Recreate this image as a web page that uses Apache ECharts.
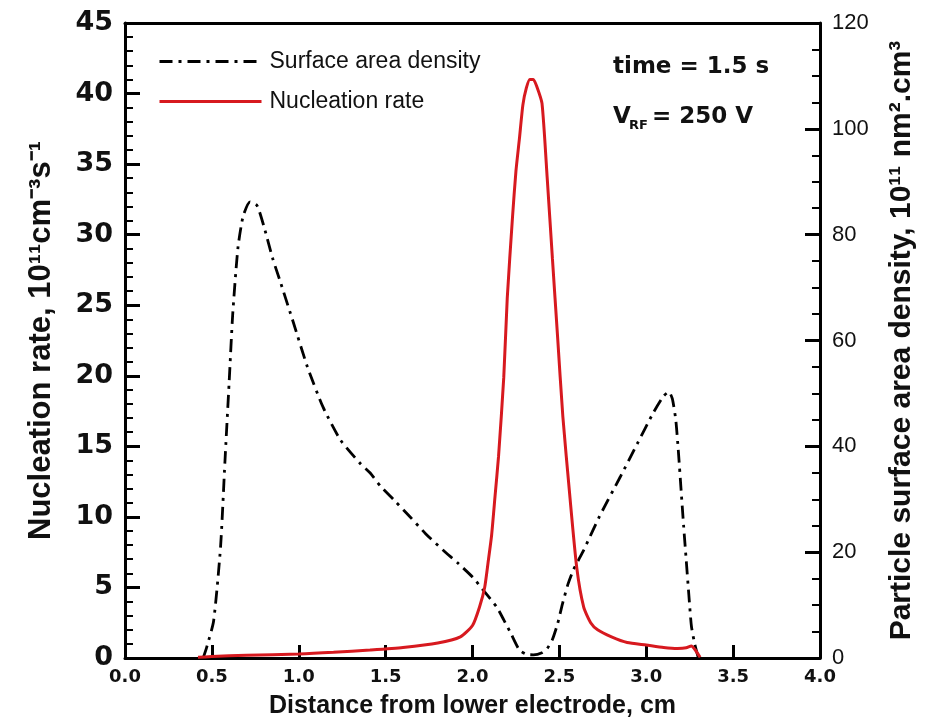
<!DOCTYPE html>
<html><head><meta charset="utf-8">
<script src="https://cdn.jsdelivr.net/npm/echarts@6/dist/echarts.min.js"></script>
<style>html,body{margin:0;padding:0;background:#fff}#c{width:925px;height:725px}</style>
</head><body><div id="c"></div>
<script>
// Surface area density (right axis, 10^11 nm^2.cm^-3)
const densityX = [0.45,0.47,0.51,0.55,0.575,0.60,0.62,0.65,0.68,0.72,0.76,0.80,0.85,0.89,0.97,1.05,1.14,1.24,1.35,1.41,1.47,1.55,1.64,1.73,1.83,1.92,2.0,2.07,2.14,2.18,2.22,2.27,2.31,2.35,2.40,2.43,2.46,2.49,2.52,2.55,2.58,2.64,2.73,2.85,2.95,3.04,3.10,3.13,3.15,3.17,3.185,3.20,3.215,3.23,3.245,3.26,3.28,3.30];
const densityVal = [0,2,7,21,37,52.5,65,77.5,83.5,86.2,85.5,81.5,75.5,71.5,63.3,55,47.4,41.2,36.9,35,32.5,29.8,26.7,23.5,20.4,17.8,15.3,12.5,9.6,7.2,4.7,1.5,0.7,0.6,1,1.8,3.5,6.5,10.5,14,16.6,20.4,26.7,34.2,40.6,46.3,49.5,50.3,49,45,39,32,25,18.5,12,6,2.5,0];
// Nucleation rate (left axis, 10^11 cm^-3 s^-1)
const nucX = [0.42,0.5,0.7,1.0,1.2,1.41,1.6,1.8,1.93,2.0,2.04,2.07,2.09,2.11,2.13,2.15,2.18,2.20,2.23,2.25,2.27,2.29,2.31,2.33,2.35,2.37,2.40,2.43,2.46,2.49,2.52,2.56,2.60,2.64,2.68,2.72,2.80,2.89,3.0,3.1,3.18,3.23,3.26,3.28,3.31];
const nucVal = [0.05,0.1,0.2,0.28,0.4,0.57,0.75,1.06,1.5,2.3,3.6,5,6.8,8.7,11.5,14.3,19.9,25.5,31.2,34.5,36.8,39.2,40.4,41,41,40.5,39.3,34,28.3,22.7,17.1,11.5,6.4,3.6,2.5,2.0,1.5,1.1,0.92,0.75,0.68,0.72,0.85,0.6,0.05];
const seriesNames = ['Surface area density', 'Nucleation rate'];

const chart = echarts.init(document.getElementById('c'), null, {renderer: 'canvas'});
const axisLine = {show: true, onZero: false, lineStyle: {color: '#000', width: 3}};
const opt = {
  animation: false,
  backgroundColor: '#fff',
  grid: {left: 125, right: 105, top: 23, bottom: 67, containLabel: false},
  legend: {
    orient: 'vertical', left: 153, top: 45, itemWidth: 102, itemHeight: 14, itemGap: 17,
    itemStyle: {opacity: 0},
    lineStyle: {width: 3},
    textStyle: {fontFamily: 'Liberation Sans', fontSize: 23, color: '#111', padding: [0,0,0,3]},
    data: seriesNames
  },
  xAxis: [{
    type: 'value', min: 0, max: 4, interval: 0.5,
    name: 'Distance from lower electrode, cm', nameLocation: 'middle', nameGap: 36,
    nameTextStyle: {fontFamily: 'Liberation Sans', fontWeight: 'bold', fontSize: 25, color: '#111'},
    axisLine: axisLine,
    axisTick: {show: true, inside: true, length: 13, lineStyle: {color: '#000', width: 3}},
    axisLabel: {fontFamily: 'DejaVu Sans', fontWeight: 'bold', fontSize: 18, color: '#111', margin: 10, formatter: v => v.toFixed(1)},
    splitLine: {show: false}
  }, {
    type: 'value', min: 0, max: 4, position: 'top',
    axisLine: axisLine, axisTick: {show: false}, axisLabel: {show: false}, splitLine: {show: false}
  }],
  yAxis: [{
    type: 'value', min: 0, max: 45, interval: 5, position: 'left',
    name: 'Nucleation rate, 10¹¹cm⁻³s⁻¹', nameLocation: 'middle', nameGap: 68, nameRotate: 90,
    nameTextStyle: {fontFamily: 'Liberation Sans', fontWeight: 'bold', fontSize: 31, color: '#111'},
    axisLine: axisLine,
    axisTick: {show: true, inside: true, length: 15, lineStyle: {color: '#000', width: 3}},
    minorTick: {show: true, splitNumber: 5, length: 8, lineStyle: {color: '#000', width: 2}},
    axisLabel: {fontFamily: 'DejaVu Sans', fontWeight: 'bold', fontSize: 27, color: '#111', margin: 12},
    splitLine: {show: false}
  }, {
    type: 'value', min: 0, max: 120, interval: 20, position: 'right',
    name: 'Particle surface area density, 10¹¹ nm².cm³', nameLocation: 'middle', nameGap: 67, nameRotate: 90,
    nameTextStyle: {fontFamily: 'Liberation Sans', fontWeight: 'bold', fontSize: 30, color: '#111'},
    axisLine: axisLine,
    axisTick: {show: true, inside: true, length: 15, lineStyle: {color: '#000', width: 3}},
    minorTick: {show: true, splitNumber: 4, length: 8, lineStyle: {color: '#000', width: 2}},
    axisLabel: {fontFamily: 'Liberation Sans', fontSize: 22, color: '#111', margin: 12},
    splitLine: {show: false}
  }],
  series: [{
    name: seriesNames[0], type: 'line', yAxisIndex: 1, symbol: 'none', smooth: 0.2,
    lineStyle: {color: '#000', width: 2.8, type: [13, 6, 3, 6]},
    itemStyle: {color: '#000'},
    data: densityX.map((x, i) => [x, densityVal[i]])
  }, {
    name: seriesNames[1], type: 'line', yAxisIndex: 0, symbol: 'none', smooth: 0.2,
    lineStyle: {color: '#d7191f', width: 3},
    itemStyle: {color: '#d7191f'},
    data: nucX.map((x, i) => [x, nucVal[i]])
  }],
  graphic: [
    {type: 'text', left: 613, top: 56, style: {text: 'time = 1.5 s', font: 'bold 23px "DejaVu Sans"', fill: '#111'}},
    {type: 'text', left: 613, top: 106, style: {text: 'V', font: 'bold 23px "DejaVu Sans"', fill: '#111'}},
    {type: 'text', left: 629, top: 119, style: {text: 'RF', font: 'bold 13px "DejaVu Sans"', fill: '#111'}},
    {type: 'text', left: 652, top: 106, style: {text: '= 250 V', font: 'bold 23px "DejaVu Sans"', fill: '#111'}}
  ]
};
chart.setOption(opt);
</script>
</body></html>
